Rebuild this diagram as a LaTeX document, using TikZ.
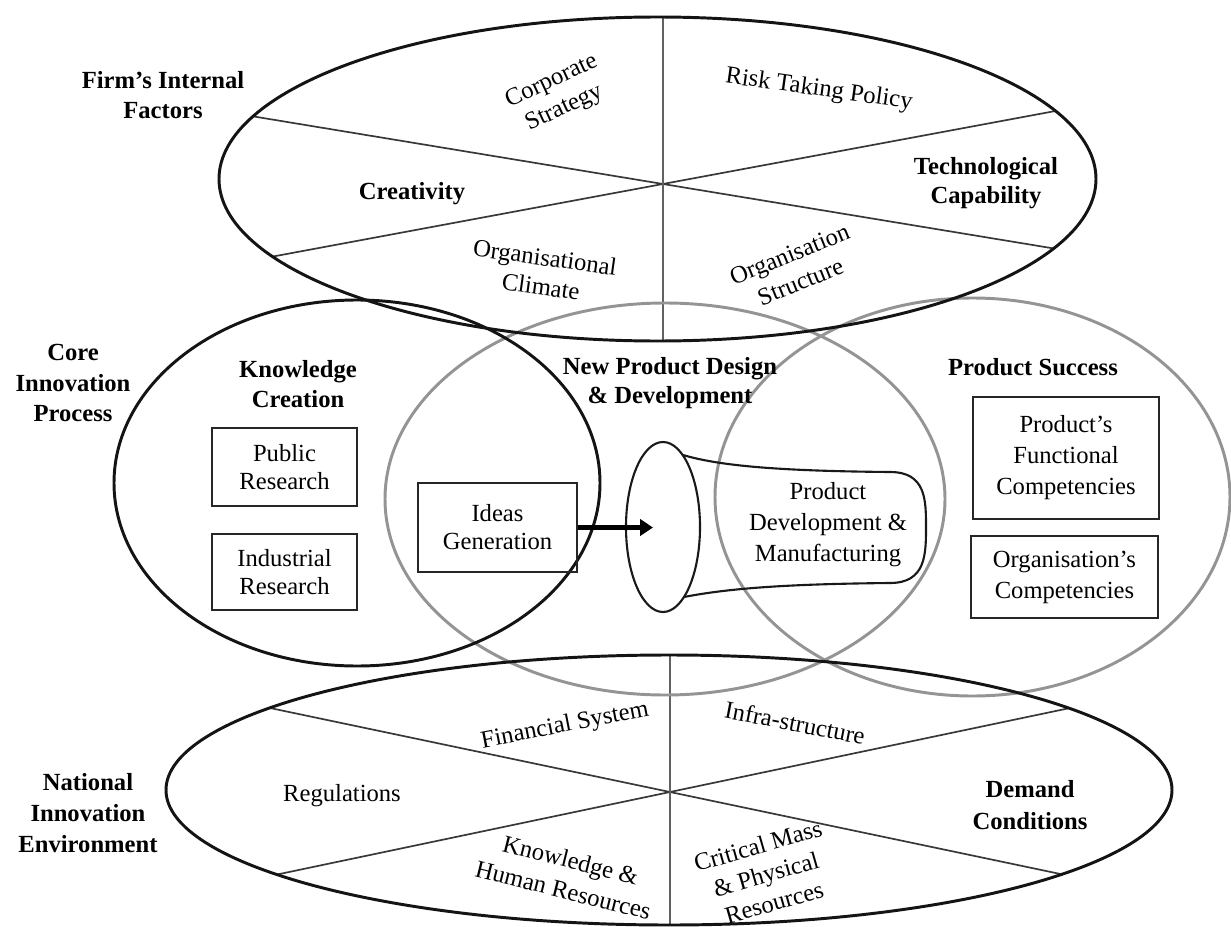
\documentclass[tikz,border=0pt]{standalone}
\usepackage{fontspec}
\setmainfont{Liberation Serif}
\usetikzlibrary{arrows.meta}
\begin{document}
\begin{tikzpicture}[x=0.025cm,y=-0.025cm,
  txt/.style={font=\fontsize{17.5}{20}\selectfont, align=center, inner sep=0pt},
  btxt/.style={font=\fontsize{17.5}{21}\selectfont\bfseries, align=center, inner sep=0pt},
  ring/.style={line width=2.1pt, draw=black!92},
  grayring/.style={line width=2.1pt, draw=black!42},
  divider/.style={line width=1.2pt, draw=black!78},
  axisline/.style={line width=0.9pt, draw=black!62},
  box/.style={draw=black!85, line width=1.3pt, txt},
  funnel/.style={line width=1.5pt, draw=black!90},
  flow/.style={line width=3pt, draw=black, -{Triangle[length=0.32cm, width=0.4cm]}},
]
\useasboundingbox (0,0) rectangle (1231,927);

% ---------- Firm's internal factors (top ellipse) ----------
\begin{scope}
  \clip (657.5,179) ellipse (438.5 and 162);
  \draw[divider] (100,91.1) -- (1200,272.6);
  \draw[divider] (100,288.7) -- (1200,84.1);
  \draw[axisline] (663,0) -- (663,400);
\end{scope}

% ---------- National innovation environment (bottom ellipse) ----------
\begin{scope}
  \clip (669,790) ellipse (503 and 135);
  \draw[divider] (100,672.3) -- (1250,913.8);
  \draw[divider] (100,911.7) -- (1250,670.2);
  \draw[axisline] (670,600) -- (670,950);
\end{scope}

% ---------- core innovation process circles ----------
\draw[grayring] (665,499) ellipse (280 and 196);
\draw[grayring] (972.5,497) ellipse (257.5 and 199);
\draw[ring] (357,483) ellipse (243 and 183);

% outer ellipses on top
\draw[ring] (657.5,179) ellipse (438.5 and 162);
\draw[ring] (669,790) ellipse (503 and 135);

% ---------- side captions ----------
\node[btxt] (firm) at (163,95) {Firm’s Internal\\Factors};
\node[btxt, font=\fontsize{17.5}{22}\selectfont\bfseries] (core) at (73,383) {Core\\Innovation\\Process};
\node[btxt, font=\fontsize{17.5}{22}\selectfont\bfseries] (nat) at (88,813) {National\\Innovation\\Environment};

% ---------- internal factors ----------
\node[txt, rotate=25, font=\fontsize{17.5}{21}\selectfont] (corp) at (558,95) {Corporate\\Strategy};
\node[txt, rotate=-8] (risk) at (819,90) {Risk Taking Policy};
\node[btxt] (crea) at (412,194) {Creativity};
\node[btxt] (tech) at (986,183) {Technological\\Capability};
\node[txt, rotate=-8, font=\fontsize{17.5}{21}\selectfont] (clim) at (543,272) {Organisational\\Climate};
\node[txt, rotate=22, font=\fontsize{17.5}{21}\selectfont] (struc) at (795,268) {Organisation\\Structure};

% ---------- national environment ----------
\node[txt, rotate=11] (fin) at (565,726) {Financial System};
\node[txt, rotate=-11] (infra) at (795,723) {Infra-structure};
\node[txt] (reg) at (342,796) {Regulations};
\node[btxt, font=\fontsize{17.5}{23}\selectfont\bfseries] (dem) at (1030,805) {Demand\\Conditions};
\node[txt, rotate=-14, font=\fontsize{17.5}{22}\selectfont] (khr) at (567,875) {Knowledge \&\\Human Resources};
\node[txt, rotate=16, font=\fontsize{17.5}{21}\selectfont] (crit) at (766,874) {Critical Mass\\\& Physical\\Resources};

% ---------- knowledge creation ----------
\node[btxt] (kc) at (298,384) {Knowledge\\Creation};
\node[box, minimum width=3.625cm, minimum height=1.95cm] (pub) at (284.5,467) {Public\\Research};
\node[box, minimum width=3.625cm, minimum height=1.9cm] (ind) at (284.5,572) {Industrial\\Research};

% ---------- new product design ----------
\node[btxt] (npd) at (670,383) {New Product Design\\\& Development};
\node[box, minimum width=3.975cm, minimum height=2.225cm] (ideas) at (497.5,527.5) {Ideas\\Generation};

% funnel
\draw[funnel] (663,527) ellipse (37 and 85);
\draw[funnel] (683,455) .. controls (720,466) and (780,471) .. (890,472)
  .. controls (926,472) and (926,500) .. (926,527)
  .. controls (926,554) and (926,583) .. (890,583)
  .. controls (790,584) and (730,588) .. (684,597);
\node[txt, font=\fontsize{17.5}{22}\selectfont] (pdm) at (828,525) {Product\\Development \&\\Manufacturing};
\coordinate (tip) at (653,527.5);
\draw[flow] (ideas.east) -- (tip);

% ---------- product success ----------
\node[btxt] (ps) at (1033,367) {Product Success};
\node[box, minimum width=4.65cm, minimum height=3.05cm, font=\fontsize{17.5}{22}\selectfont] (pfc) at (1066,458) {Product’s\\Functional\\Competencies};
\node[box, minimum width=4.675cm, minimum height=2.05cm, font=\fontsize{17.5}{22}\selectfont] (oc) at (1064.5,577) {Organisation’s\\Competencies};
\end{tikzpicture}
\end{document}
